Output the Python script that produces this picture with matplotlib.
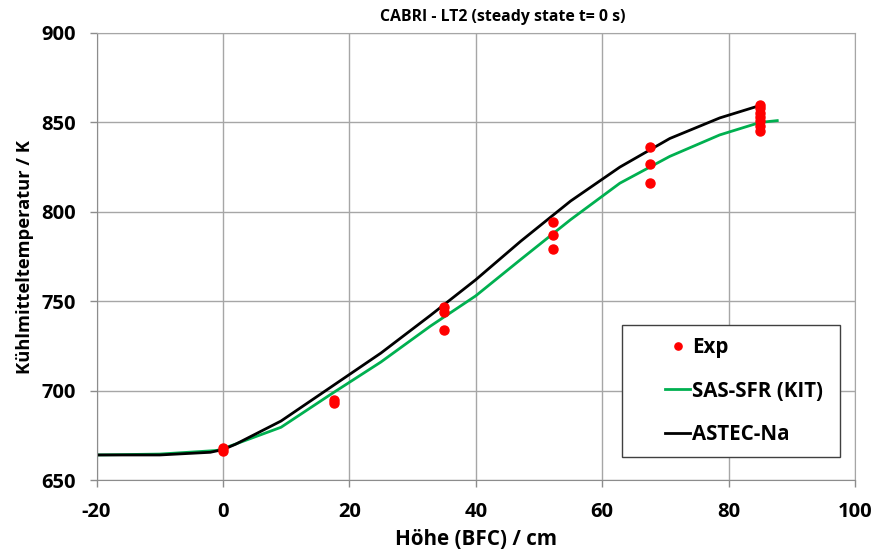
import matplotlib.pyplot as plt
from matplotlib.patches import Rectangle

plt.rcParams['font.family'] = ['Open Sans', 'DejaVu Sans']
plt.rcParams['font.weight'] = 'bold'
plt.rcParams['axes.unicode_minus'] = False

# Messpunkte
exp_x = [0, 0, 17.5, 17.5, 35, 35, 35, 52.3, 52.3, 52.3, 67.5, 67.5, 67.5,
         85, 85, 85, 85, 85, 85, 85]
exp_y = [666, 668, 695, 693, 747, 744, 734, 794.5, 787, 779, 836, 827, 816,
         860, 858, 855, 853, 851, 848, 845]

# SAS-SFR (KIT)
sas_x = [-20, -10, -1, 0, 9.2, 17.1, 25, 32.8, 40, 47.1, 55, 62.8, 70.7, 78.6, 85, 87.7]
sas_y = [664, 664.5, 666.5, 667.5, 679.5, 698, 716, 736, 753, 773.3, 795.6, 816, 831, 843, 850, 851]

# ASTEC-Na
astec_x = [-20, -10, -2, 0, 2, 9.2, 17.1, 25, 32.8, 40, 47.1, 55, 62.8, 70.7, 78.6, 85]
astec_y = [664, 664, 665.5, 667, 670, 683, 702, 721, 742, 762, 783.5, 806, 825, 841, 852.5, 859.5]

W, H = 877, 557
fig = plt.figure(figsize=(W / 100, H / 100), dpi=100)
ax = fig.add_axes([96.5 / W, 1 - 480 / H, 758.5 / W, 447 / H])

ax.plot(exp_x, exp_y, 'o', color='#ff0000', markersize=6.5, label='Exp', zorder=3)
ax.plot(sas_x, sas_y, color='#00b050', lw=2, label='SAS-SFR (KIT)')
ax.plot(astec_x, astec_y, color='black', lw=2, label='ASTEC-Na')

ax.set_xlim(-20, 100)
ax.set_ylim(650, 900)
ax.set_xticks(range(-20, 101, 20))
ax.set_yticks(range(650, 901, 50))
ax.grid(True, color='#a6a6a6', lw=1)
ax.set_axisbelow(True)
for s in ax.spines.values():
    s.set_color('#a6a6a6')
ax.spines['left'].set_color('#8c8c8c')
ax.spines['bottom'].set_color('#8c8c8c')
ax.tick_params(length=5, width=1, color='#8c8c8c', labelsize=14.5)
ax.tick_params(axis='x', pad=11)
ax.tick_params(axis='y', pad=10)
for lab in ax.get_xticklabels() + ax.get_yticklabels():
    lab.set_fontweight('bold')

ax.set_xlabel('Höhe (BFC) / cm', fontsize=14.9, fontweight='bold', labelpad=5)
ax.set_ylabel('Kühlmitteltemperatur / K', fontsize=13.2, fontweight='bold', labelpad=5)
fig.text(503 / W, 1 - 17 / H, 'CABRI - LT2 (steady state t= 0 s)', fontsize=11.4,
         fontweight='bold', ha='center', va='center')

# Legende mit eigenem Rahmen
ax.add_patch(Rectangle((622 / W, 1 - 457 / H), 218 / W, 132 / H,
                       transform=fig.transFigure, facecolor='white',
                       edgecolor='#404040', lw=1, zorder=4, clip_on=False))
leg = ax.legend(loc='upper left', bbox_to_anchor=(665 / W, 1 - 337 / H),
                bbox_transform=fig.transFigure, fontsize=14.8, frameon=False,
                handlelength=1.22, handletextpad=0.1, labelspacing=1.1,
                borderpad=0, borderaxespad=0, markerscale=0.8)
leg.set_zorder(5)
for t in leg.get_texts():
    t.set_fontweight('bold')

fig.savefig('out.png', dpi=100)
